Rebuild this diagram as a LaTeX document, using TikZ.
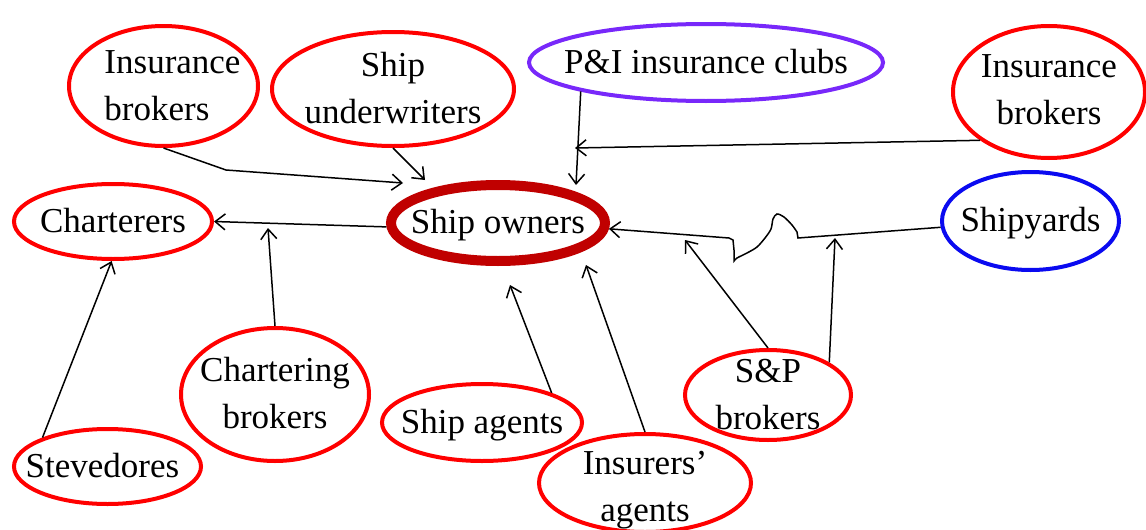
\documentclass[tikz,border=0pt]{standalone}
\usepackage{fontspec}
\setmainfont{Liberation Serif}
\usetikzlibrary{shapes.geometric,arrows.meta}
\definecolor{bubred}{RGB}{255,0,0}
\definecolor{ownred}{RGB}{192,0,0}
\definecolor{clubpurple}{RGB}{120,40,250}
\definecolor{yardblue}{RGB}{10,10,240}
\newcommand{\bt}[2][c]{\lower3pt\vbox to 0pt{\vss\hbox to 0pt{\hss\begin{tabular}{@{}#1@{}}#2\end{tabular}\hss}\vss}}
\begin{document}
\begin{tikzpicture}[x=1pt,y=-1pt,
  bub/.style={ellipse, draw=bubred, line width=4pt, inner sep=0pt,
    font=\fontsize{35}{47}\selectfont},
  arr/.style={line width=1.5pt, -{Straight Barb[length=10pt,width=16pt]}}]
\useasboundingbox (0,0) rectangle (1146,530);
% nodes
\node[bub, minimum width=189pt, minimum height=120pt] (ib1) at (163.5,86) {\bt[l]{\hspace*{18pt}Insurance\\\hspace*{18pt}brokers}};
\node[bub, minimum width=242pt, minimum height=114pt] (su) at (393,89) {\bt{Ship\\underwriters}};
\node[bub, draw=clubpurple, minimum width=354pt, minimum height=77pt] (pi) at (706,62.5) {\bt{P\&I insurance clubs}};
\node[bub, minimum width=192pt, minimum height=132pt] (ib2) at (1049,92) {\raisebox{6pt}{\bt{Insurance\\brokers}}};
\node[bub, minimum width=198pt, minimum height=75pt] (ch) at (113,221.5) {\bt{Charterers}};
\node[bub, draw=ownred, line width=10pt, minimum width=214pt, minimum height=76pt] (so) at (498,223) {\bt{Ship owners}};
\node[bub, draw=yardblue, minimum width=177pt, minimum height=98pt] (sy) at (1030.5,221) {\bt{Shipyards}};
\node[bub, minimum width=188pt, minimum height=133pt] (cb) at (275,394.5) {\bt{Chartering\\brokers}};
\node[bub, minimum width=187pt, minimum height=75pt] (st) at (107.5,466.5) {\bt{\hspace*{-10pt}Stevedores}};
\node[bub, minimum width=200pt, minimum height=77pt] (sa) at (482,422.5) {\bt{Ship agents}};
\node[bub, minimum width=212pt, minimum height=98pt] (ia) at (645,483) {\raisebox{-8pt}{\bt{Insurers'\\agents}}};
\node[bub, minimum width=166pt, minimum height=90pt] (sp) at (768,395) {\bt{S\&P\\brokers}};
% free ends
\coordinate (a1m) at (226,170);
\coordinate (a1e) at (403,183);
\coordinate (a2e) at (425,180);
\coordinate (a3e) at (576,185);
\coordinate (a4e) at (575,148);
\coordinate (a6e) at (268,228);
\coordinate (a8e) at (510,285);
\coordinate (a9e) at (586,265);
\coordinate (a10e) at (685,240);
\coordinate (a11e) at (835,238);
\coordinate (w1) at (798,238);
\coordinate (w2) at (797,232);
\coordinate (w4) at (733,240);
\coordinate (w5) at (729,238);
% connectors
\draw[arr] (ib1.south) -- (a1m) -- (a1e);
\draw[arr] (su.south) -- (a2e);
\draw[arr] (pi.-167.6) -- (a3e);
\draw[arr] (ib2.-145) -- (a4e);
\draw[arr] (so.182) -- (ch.east);
\draw[arr] (cb.north) -- (a6e);
\draw[arr] (st.156) -- (ch.-92);
\draw[arr] (sa.23) -- (a8e);
\draw[arr] (ia.north) -- (a9e);
\draw[arr] (sp.north) -- (a10e);
\draw[arr] (sp.28) -- (a11e);
\draw[arr] (sy.184) -- (w1) -- (w2) -- plot[smooth] coordinates {(797,232) (792,225) (784,217) (777,214) (773,219) (771,229) (765,238) (757,247) (747,253) (737,258) (734,261)} -- (734,250) -- (w4) -- (w5) -- (so.-3);
\end{tikzpicture}
\end{document}
